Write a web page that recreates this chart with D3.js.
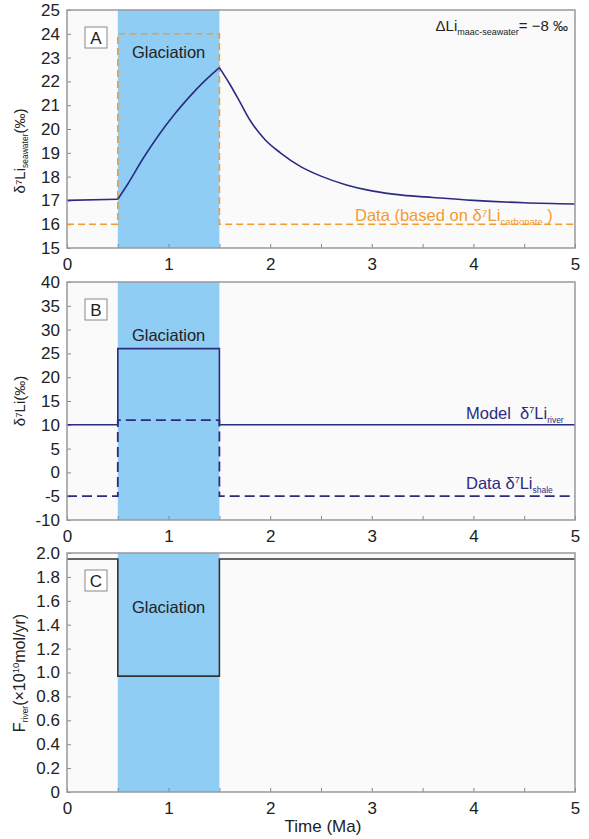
<!DOCTYPE html>
<html>
<head>
<meta charset="utf-8">
<script src="https://cdn.jsdelivr.net/npm/d3@7"></script>
<style>
  body { margin: 0; background: #fff; }
  svg { font-family: "Liberation Sans", Arial, sans-serif; }
</style>
</head>
<body>
<div id="chart"></div>
<script>
// time axis shared by all panels (Ma)
const timeTicks = [0, 0.5, 1, 1.5, 2, 2.5, 3, 3.5, 4, 4.5, 5];
const glaciation = [0.5, 1.5];

// panel A: modelled seawater d7Li and carbonate based data
const seaTime = [0, 0.5, 0.6, 0.75, 0.9, 1.05, 1.2, 1.35, 1.5, 1.6, 1.7, 1.8, 1.95, 2.1, 2.3, 2.5, 2.75, 3.0, 3.3, 3.6, 4.0, 4.5, 5.0];
const seaValue = [17.0, 17.05, 17.7, 18.77, 19.73, 20.58, 21.33, 22.0, 22.58, 21.9, 21.15, 20.38, 19.55, 19.0, 18.42, 18.02, 17.65, 17.4, 17.22, 17.12, 17.0, 16.9, 16.85];
const carbTime = [0, 0.5, 0.5, 1.5, 1.5, 5];
const carbValue = [16, 16, 24, 24, 16, 16];

// panel B: river model and shale data
const stepTime = [0, 0.5, 0.5, 1.5, 1.5, 5];
const riverValue = [10, 10, 26, 26, 10, 10];
const shaleValue = [-5, -5, 11, 11, -5, -5];

// panel C: riverine flux
const fluxValue = [1.95, 1.95, 0.97, 0.97, 1.95, 1.95];

const yTicksA = d3.range(15, 26, 1);
const yTicksB = d3.range(-10, 41, 5);
const yTicksC = [0, 0.2, 0.4, 0.6, 0.8, 1.0, 1.2, 1.4, 1.6, 1.8, 2.0];

const W = 589, H = 839;
const left = 67, right = 575;
const navy = "#2b2c80", orange = "#f39a32", ice = "#8fcdf5";
const tickFont = 17;

const svg = d3.select("#chart").append("svg")
    .attr("width", W)
    .attr("height", H);

const x = d3.scaleLinear().domain([0, 5]).range([left, right]);

function panel(top, bottom, yDomain, yTicks, fmt, letter, glacY) {
    const y = d3.scaleLinear().domain(yDomain).range([bottom, top]);
    const g = svg.append("g");

    g.append("rect")
        .attr("x", left).attr("y", top)
        .attr("width", right - left).attr("height", bottom - top)
        .attr("fill", "#fafafa");

    g.append("rect")
        .attr("x", x(glaciation[0])).attr("y", top)
        .attr("width", x(glaciation[1]) - x(glaciation[0]))
        .attr("height", bottom - top)
        .attr("fill", ice);

    g.append("text")
        .attr("x", x(1)).attr("y", glacY)
        .attr("text-anchor", "middle")
        .attr("font-size", 16.5)
        .attr("fill", "#222")
        .text("Glaciation");

    // letter box
    g.append("rect")
        .attr("x", 85).attr("y", top + 17)
        .attr("width", 22).attr("height", 21)
        .attr("fill", "#fff").attr("stroke", "#888").attr("stroke-width", 1);
    g.append("text")
        .attr("x", 96).attr("y", top + 34)
        .attr("text-anchor", "middle")
        .attr("font-size", 17)
        .attr("fill", "#222")
        .text(letter);

    const xAxis = d3.axisBottom(x)
        .tickValues(timeTicks)
        .tickSizeInner(-4).tickSizeOuter(0)
        .tickPadding(10)
        .tickFormat(d => Number.isInteger(d) ? d : "");
    const xa = g.append("g").attr("transform", `translate(0,${bottom})`).call(xAxis);

    const yAxis = d3.axisLeft(y)
        .tickValues(yTicks)
        .tickSizeInner(-4).tickSizeOuter(0)
        .tickPadding(7)
        .tickFormat(fmt);
    const ya = g.append("g").attr("transform", `translate(${left},0)`).call(yAxis);

    [xa, ya].forEach(a => {
        a.select(".domain").remove();
        a.selectAll("line").attr("stroke", "#888");
        a.selectAll("text").attr("font-size", tickFont).attr("fill", "#222")
            .attr("font-family", "'Liberation Sans', Arial, sans-serif");
    });

    return { g, y, top, bottom };
}

function frame(p) {
    p.g.append("rect")
        .attr("x", left).attr("y", p.top)
        .attr("width", right - left).attr("height", p.bottom - p.top)
        .attr("fill", "none").attr("stroke", "#999").attr("stroke-width", 1.5);
}

// ---- Panel A
const A = panel(10, 248, [15, 25], yTicksA, d => String(d), "A", 58);

const carbLine = d3.line().x((d, i) => x(carbTime[i])).y(d => A.y(d));
A.g.append("path")
    .attr("d", carbLine(carbValue))
    .attr("fill", "none").attr("stroke", orange)
    .attr("stroke-width", 1.6).attr("stroke-dasharray", "7,4");

// the model curve has sharp corners at the start and end of glaciation
const seaPts = seaTime.map((t, i) => [t, seaValue[i]]);
const iStart = seaTime.indexOf(0.5), iEnd = seaTime.indexOf(1.5);
const seaFlat = d3.line().x(d => x(d[0])).y(d => A.y(d[1]));
const seaSmooth = d3.line().x(d => x(d[0])).y(d => A.y(d[1])).curve(d3.curveMonotoneX);
[
    seaFlat(seaPts.slice(0, iStart + 1)),
    seaSmooth(seaPts.slice(iStart, iEnd + 1)),
    seaSmooth(seaPts.slice(iEnd))
].forEach(dPath => {
    A.g.append("path")
        .attr("d", dPath)
        .attr("fill", "none").attr("stroke", navy).attr("stroke-width", 1.6)
        .attr("stroke-linejoin", "miter");
});

frame(A);

const dl = A.g.append("text")
    .attr("x", 568).attr("y", 31)
    .attr("text-anchor", "end")
    .attr("font-size", 15).attr("fill", "#222");
dl.append("tspan").text("ΔLi");
dl.append("tspan").attr("font-size", 9).attr("dy", 4).text("maac-seawater");
dl.append("tspan").attr("dy", -4).text("= −8 ‰");

const dc = A.g.append("text")
    .attr("x", 355).attr("y", 221)
    .attr("font-size", 16.5).attr("fill", orange);
dc.append("tspan").text("Data (based on δ⁷Li");
dc.append("tspan").attr("font-size", 9.5).attr("dy", 4).text("carbonate");
dc.append("tspan").attr("dy", -4).text(" )");

const la = svg.append("text")
    .attr("transform", "translate(25,151) rotate(-90)")
    .attr("text-anchor", "middle")
    .attr("font-size", 15).attr("fill", "#222");
la.append("tspan").text("δ⁷Li");
la.append("tspan").attr("font-size", 8.5).attr("dy", 3).text("seawater");
la.append("tspan").attr("dy", -3).text("(‰)");

// ---- Panel B
const B = panel(282, 520, [-10, 40], yTicksB, d => String(d), "B", 341);

const stepLineB = d3.line().x((d, i) => x(stepTime[i])).y(d => B.y(d));
B.g.append("path")
    .attr("d", stepLineB(shaleValue))
    .attr("fill", "none").attr("stroke", navy)
    .attr("stroke-width", 1.8).attr("stroke-dasharray", "10,5");
B.g.append("path")
    .attr("d", stepLineB(riverValue))
    .attr("fill", "none").attr("stroke", navy).attr("stroke-width", 1.6);

frame(B);

const mr = B.g.append("text")
    .attr("x", 466).attr("y", 419)
    .attr("font-size", 16.5).attr("fill", navy);
mr.append("tspan").text("Model\u00a0\u00a0δ");
mr.append("tspan").attr("font-size", 9).attr("dy", -6).text("7");
mr.append("tspan").attr("dy", 6).text("Li");
mr.append("tspan").attr("font-size", 8.5).attr("dy", 4).text("river");

const ds = B.g.append("text")
    .attr("x", 466).attr("y", 489)
    .attr("font-size", 16.5).attr("fill", navy);
ds.append("tspan").text("Data δ");
ds.append("tspan").attr("font-size", 9).attr("dy", -6).text("7");
ds.append("tspan").attr("dy", 6).text("Li");
ds.append("tspan").attr("font-size", 8.5).attr("dy", 4).text("shale");

svg.append("text")
    .attr("transform", "translate(25,401) rotate(-90)")
    .attr("text-anchor", "middle")
    .attr("font-size", 15).attr("fill", "#222")
    .text("δ⁷Li(‰)");

// ---- Panel C
const C = panel(553, 792, [0, 2], yTicksC, d => d === 0 ? "0" : d3.format(".1f")(d), "C", 613);

const stepLineC = d3.line().x((d, i) => x(stepTime[i])).y(d => C.y(d));
C.g.append("path")
    .attr("d", stepLineC(fluxValue))
    .attr("fill", "none").attr("stroke", "#333").attr("stroke-width", 1.6);

frame(C);

const lc = svg.append("text")
    .attr("transform", "translate(25,673) rotate(-90)")
    .attr("text-anchor", "middle")
    .attr("font-size", 16).attr("fill", "#222");
lc.append("tspan").text("F");
lc.append("tspan").attr("font-size", 8.5).attr("dy", 3).text("river");
lc.append("tspan").attr("dy", -3).text("(×10");
lc.append("tspan").attr("font-size", 9.5).attr("dy", -6).text("10");
lc.append("tspan").attr("dy", 6).text("mol/yr)");

svg.append("text")
    .attr("x", 323).attr("y", 832)
    .attr("text-anchor", "middle")
    .attr("font-size", 17).attr("fill", "#222")
    .text("Time (Ma)");
</script>
</body>
</html>
